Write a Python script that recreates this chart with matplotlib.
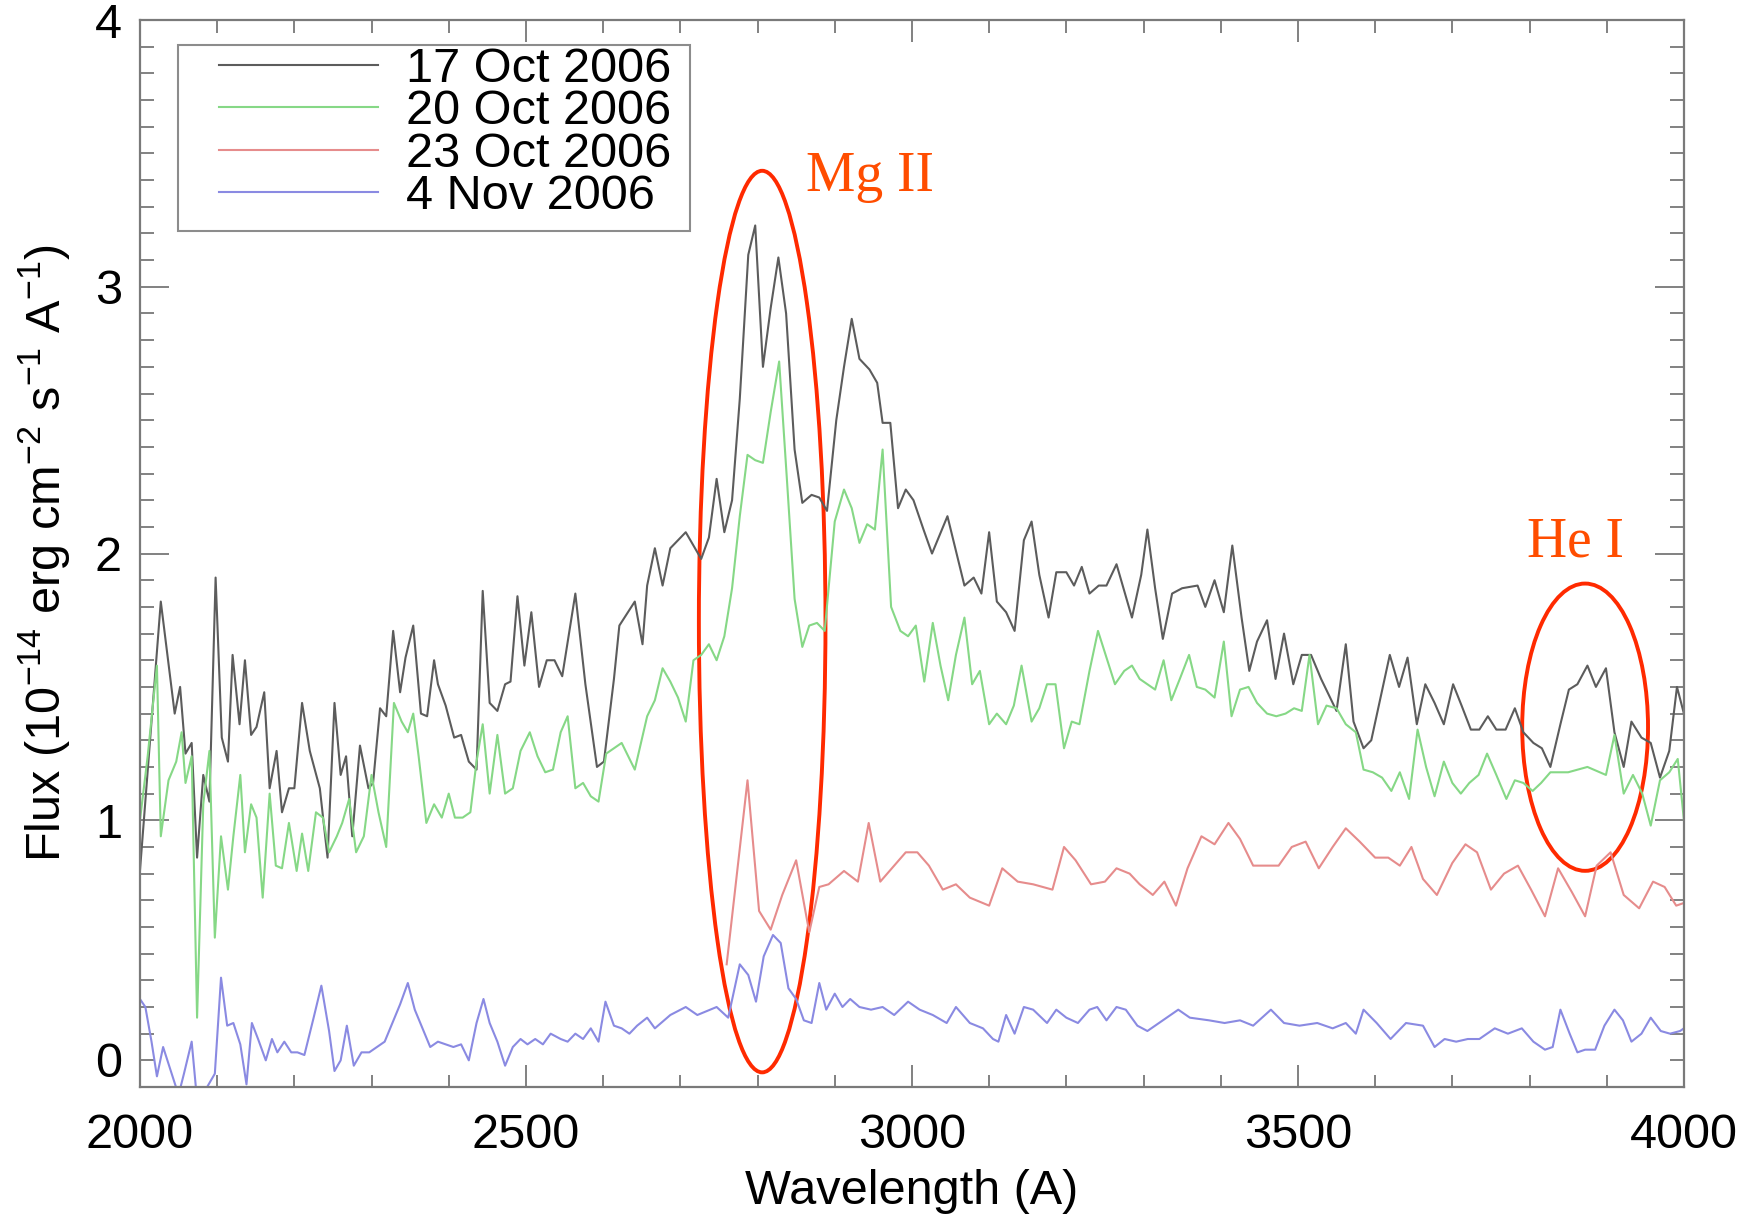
import numpy as np
import matplotlib
matplotlib.use("Agg")
import matplotlib.pyplot as plt
from matplotlib.patches import Ellipse, Rectangle
from matplotlib.ticker import MultipleLocator

plt.rcParams['font.family'] = ['Liberation Sans', 'DejaVu Sans']
plt.rcParams['mathtext.fontset'] = 'custom'
plt.rcParams['mathtext.rm'] = 'Liberation Sans'
plt.rcParams['mathtext.it'] = 'Liberation Sans:italic'

# 17 Oct 2006
wl_oct17 = [2000, 2027, 2045, 2052, 2059, 2067, 2074, 2082, 2090, 2098,
            2106, 2114, 2120, 2129, 2136, 2144, 2151, 2161, 2168, 2177,
            2184, 2193, 2200, 2210, 2220, 2233, 2243, 2252, 2260, 2267,
            2275, 2285, 2296, 2302, 2311, 2319, 2328, 2337, 2344, 2354,
            2364, 2372, 2381, 2386, 2396, 2407, 2416, 2426, 2436, 2444,
            2453, 2463, 2473, 2480, 2489, 2498, 2507, 2517, 2527, 2537,
            2547, 2564, 2577, 2592, 2601, 2614, 2621, 2641, 2651,
            2657, 2667, 2677, 2687, 2707, 2727, 2737, 2747, 2757, 2767,
            2777, 2788, 2797, 2807, 2817, 2827, 2837, 2848, 2858, 2870,
            2880, 2890, 2902, 2912, 2922, 2932, 2945, 2955, 2962, 2972,
            2982, 2992, 3002, 3015, 3026, 3046, 3057, 3068, 3080, 3090,
            3100, 3110, 3122, 3133, 3145, 3155, 3165, 3177, 3187, 3200,
            3210, 3220, 3230, 3242, 3252, 3265, 3285, 3297,
            3305, 3315, 3325, 3337, 3350, 3370, 3380, 3392, 3404, 3415,
            3427, 3437, 3447, 3460, 3471, 3482, 3494, 3505, 3517, 3530,
            3550, 3562, 3572, 3585, 3595, 3607, 3619, 3631, 3642, 3654,
            3665, 3677, 3689, 3701, 3712, 3724, 3735, 3746, 3757, 3769,
            3781, 3792, 3805, 3816, 3827, 3840, 3851, 3862, 3875, 3886,
            3899, 3910, 3922, 3932, 3945, 3957, 3969, 3981, 3991, 4000]
fx_oct17 = [0.81, 1.82, 1.40, 1.50, 1.25, 1.29, 0.86, 1.17, 1.07, 1.91,
            1.31, 1.22, 1.62, 1.36, 1.60, 1.32, 1.35, 1.48, 1.12, 1.26,
            1.03, 1.12, 1.12, 1.44, 1.26, 1.12, 0.86, 1.44, 1.17, 1.24,
            0.94, 1.28, 1.12, 1.14, 1.42, 1.39, 1.71, 1.48, 1.61, 1.73,
            1.40, 1.39, 1.60, 1.51, 1.43, 1.31, 1.32, 1.22, 1.19, 1.86,
            1.44, 1.41, 1.51, 1.52, 1.84, 1.58, 1.78, 1.50, 1.60, 1.60,
            1.54, 1.85, 1.51, 1.20, 1.22, 1.53, 1.73, 1.82, 1.66,
            1.88, 2.02, 1.88, 2.02, 2.08, 1.98, 2.06, 2.28, 2.08, 2.20,
            2.58, 3.12, 3.23, 2.70, 2.92, 3.11, 2.90, 2.39, 2.19, 2.22,
            2.21, 2.16, 2.50, 2.70, 2.88, 2.73, 2.69, 2.64, 2.49, 2.49,
            2.17, 2.24, 2.20, 2.09, 2.00, 2.14, 2.01, 1.88, 1.91, 1.85,
            2.08, 1.82, 1.78, 1.71, 2.05, 2.12, 1.92, 1.76, 1.93, 1.93,
            1.88, 1.95, 1.85, 1.88, 1.88, 1.96, 1.76, 1.92,
            2.09, 1.87, 1.68, 1.85, 1.87, 1.88, 1.80, 1.90, 1.78, 2.03,
            1.76, 1.56, 1.67, 1.75, 1.53, 1.70, 1.51, 1.62, 1.62, 1.53,
            1.41, 1.66, 1.37, 1.27, 1.30, 1.46, 1.62, 1.50, 1.61, 1.36,
            1.51, 1.44, 1.36, 1.51, 1.43, 1.34, 1.34, 1.39, 1.34, 1.34,
            1.42, 1.33, 1.29, 1.27, 1.20, 1.36, 1.49, 1.51, 1.58, 1.50,
            1.57, 1.33, 1.20, 1.37, 1.31, 1.29, 1.16, 1.26, 1.50, 1.40]

# 20 Oct 2006
wl_oct20 = [2000, 2010, 2022, 2027, 2037, 2047, 2054, 2059, 2067, 2074,
            2082, 2090, 2097, 2105, 2114, 2121, 2130, 2136, 2144, 2151,
            2159, 2168, 2176, 2184, 2193, 2203, 2210, 2218, 2228, 2237,
            2245, 2255, 2262, 2271, 2280, 2290, 2300, 2309, 2319, 2329,
            2339, 2347, 2354, 2361, 2371, 2381, 2391, 2400, 2408, 2418,
            2428, 2436, 2444, 2453, 2463, 2473, 2483, 2493, 2505, 2515,
            2525, 2535, 2545, 2554, 2564, 2574, 2584, 2594, 2604, 2624,
            2641,
            2657, 2667, 2677, 2687, 2697, 2707, 2717, 2727, 2737, 2747,
            2757, 2767, 2777, 2787, 2797, 2807, 2817, 2828, 2838, 2848,
            2858, 2867, 2877, 2887, 2900, 2912, 2922, 2932, 2942, 2952,
            2962, 2973, 2985, 2995, 3005, 3016, 3027, 3037, 3047, 3057,
            3068, 3078, 3088, 3100, 3110, 3122, 3132, 3142, 3155, 3165,
            3175, 3186, 3197, 3207, 3217, 3230, 3241, 3252, 3263, 3275,
            3285, 3295,
            3305, 3315, 3326, 3336, 3347, 3359, 3369, 3380, 3392, 3404,
            3414, 3425, 3436, 3447, 3460, 3472, 3484, 3495, 3505, 3515,
            3526, 3537, 3550, 3562, 3575, 3585, 3597, 3609, 3621, 3632,
            3644, 3655, 3666, 3677, 3689, 3700, 3711, 3722, 3734, 3745,
            3757, 3770, 3781, 3792, 3804, 3815, 3827, 3850, 3875, 3899,
            3910, 3922, 3934, 3946, 3957, 3969, 3981, 3992, 4000]
fx_oct20 = [1.00, 1.24, 1.58, 0.94, 1.15, 1.22, 1.33, 1.14, 1.24, 0.26,
            1.06, 1.26, 0.56, 0.94, 0.74, 0.94, 1.17, 0.88, 1.06, 1.01,
            0.71, 1.10, 0.83, 0.82, 0.99, 0.81, 0.95, 0.81, 1.03, 1.01,
            0.88, 0.94, 0.99, 1.08, 0.88, 0.94, 1.17, 1.03, 0.90, 1.44,
            1.37, 1.33, 1.40, 1.24, 0.99, 1.06, 1.01, 1.10, 1.01, 1.01,
            1.03, 1.22, 1.36, 1.10, 1.32, 1.10, 1.12, 1.26, 1.33, 1.24,
            1.18, 1.19, 1.33, 1.39, 1.12, 1.14, 1.09, 1.07, 1.25, 1.29,
            1.19,
            1.39, 1.45, 1.57, 1.52, 1.46, 1.37, 1.60, 1.62, 1.66, 1.60,
            1.69, 1.87, 2.14, 2.37, 2.35, 2.34, 2.53, 2.72, 2.28, 1.83,
            1.65, 1.73, 1.74, 1.71, 2.12, 2.24, 2.17, 2.04, 2.11, 2.09,
            2.39, 1.80, 1.71, 1.69, 1.73, 1.52, 1.74, 1.58, 1.45, 1.62,
            1.76, 1.51, 1.56, 1.36, 1.40, 1.36, 1.43, 1.58, 1.37, 1.42,
            1.51, 1.51, 1.27, 1.37, 1.36, 1.56, 1.71, 1.61, 1.51, 1.56,
            1.58, 1.53,
            1.51, 1.49, 1.60, 1.45, 1.53, 1.62, 1.50, 1.49, 1.46, 1.67,
            1.39, 1.49, 1.50, 1.44, 1.40, 1.39, 1.40, 1.42, 1.41, 1.62,
            1.36, 1.43, 1.42, 1.36, 1.33, 1.19, 1.18, 1.16, 1.11, 1.18,
            1.08, 1.34, 1.20, 1.09, 1.22, 1.14, 1.10, 1.14, 1.17, 1.25,
            1.17, 1.08, 1.15, 1.14, 1.11, 1.14, 1.18, 1.18, 1.20, 1.17,
            1.32, 1.10, 1.17, 1.10, 0.98, 1.15, 1.18, 1.23, 1.00]

# 23 Oct 2006
wl_oct23 = [2760, 2787, 2802, 2817, 2832, 2850, 2867, 2880, 2892, 2912,
            2930, 2944, 2959, 2977, 2992, 3007, 3022, 3040, 3057, 3075,
            3100, 3117, 3137, 3157, 3182, 3197, 3212, 3232, 3250, 3265,
            3282, 3295, 3312, 3327, 3342, 3357, 3375, 3392, 3410, 3425,
            3442, 3475, 3492, 3510, 3527, 3545, 3562, 3580, 3600, 3617,
            3632, 3647, 3662, 3680, 3700, 3717, 3732, 3750, 3767, 3785,
            3802, 3820, 3837, 3855, 3872, 3887, 3905, 3922, 3942, 3960,
            3975, 3990, 4000]
fx_oct23 = [0.46, 1.15, 0.66, 0.59, 0.72, 0.85, 0.58, 0.75, 0.76, 0.81,
            0.77, 0.99, 0.77, 0.83, 0.88, 0.88, 0.83, 0.74, 0.76, 0.71,
            0.68, 0.82, 0.77, 0.76, 0.74, 0.90, 0.85, 0.76, 0.77, 0.82,
            0.80, 0.76, 0.72, 0.77, 0.68, 0.82, 0.94, 0.91, 0.99, 0.93,
            0.83, 0.83, 0.90, 0.92, 0.82, 0.90, 0.97, 0.92, 0.86, 0.86,
            0.83, 0.90, 0.78, 0.72, 0.84, 0.91, 0.88, 0.74, 0.80, 0.83,
            0.74, 0.64, 0.82, 0.73, 0.64, 0.83, 0.88, 0.72, 0.67, 0.77,
            0.75, 0.68, 0.69]

# 4 Nov 2006
wl_nov4 = [2000, 2007, 2015, 2022, 2030, 2040, 2050, 2057, 2067, 2074,
           2087, 2097, 2105, 2113, 2121, 2130, 2138, 2145, 2153, 2163,
           2171, 2178, 2187, 2196, 2204, 2213, 2225, 2235, 2245, 2252,
           2260, 2268, 2277, 2287, 2297, 2307, 2317, 2327, 2337, 2347,
           2356, 2366, 2376, 2386, 2396, 2406, 2416, 2426, 2436, 2445,
           2453, 2463, 2473, 2483, 2493, 2502, 2512, 2522, 2532, 2545,
           2554, 2564, 2574, 2584, 2594, 2603, 2614, 2624, 2634, 2644,
           2657, 2667, 2687, 2707, 2722, 2747, 2762, 2777, 2788, 2798,
           2808, 2820, 2830, 2840, 2850, 2860, 2870, 2880, 2889, 2900,
           2910, 2920, 2932, 2947, 2962, 2977, 2995, 3010, 3027, 3045,
           3057, 3075, 3092, 3105, 3112, 3122, 3133, 3145, 3157, 3175,
           3187, 3200, 3215, 3230, 3240, 3252, 3265, 3277, 3292,
           3305, 3325, 3345, 3360, 3385, 3405, 3425, 3442, 3465, 3482,
           3502, 3525, 3545, 3562, 3575, 3585, 3602, 3620, 3640, 3662,
           3677, 3690, 3705, 3720, 3735, 3755, 3772, 3790, 3805, 3820,
           3830, 3840, 3852, 3862, 3872, 3885, 3897, 3910, 3921, 3932,
           3945, 3957, 3970, 3982, 3995, 4000]
fx_nov4 = [0.33, 0.30, 0.17, 0.04, 0.15, 0.06, -0.03, 0.05, 0.17, -0.05,
           0.00, 0.05, 0.41, 0.23, 0.24, 0.16, 0.01, 0.24, 0.18, 0.10,
           0.18, 0.13, 0.17, 0.13, 0.13, 0.12, 0.26, 0.38, 0.21, 0.06,
           0.10, 0.23, 0.08, 0.13, 0.13, 0.15, 0.17, 0.24, 0.31, 0.39,
           0.29, 0.22, 0.15, 0.17, 0.16, 0.15, 0.16, 0.10, 0.24, 0.33,
           0.24, 0.17, 0.08, 0.15, 0.18, 0.16, 0.18, 0.16, 0.20, 0.18,
           0.17, 0.20, 0.18, 0.22, 0.17, 0.32, 0.23, 0.22, 0.20, 0.23,
           0.26, 0.22, 0.27, 0.30, 0.27, 0.30, 0.26, 0.46, 0.42, 0.32,
           0.49, 0.57, 0.54, 0.37, 0.33, 0.25, 0.24, 0.39, 0.29, 0.35,
           0.30, 0.33, 0.30, 0.29, 0.30, 0.27, 0.32, 0.29, 0.27, 0.24,
           0.30, 0.24, 0.22, 0.18, 0.17, 0.27, 0.20, 0.30, 0.29, 0.24,
           0.29, 0.26, 0.24, 0.29, 0.30, 0.25, 0.30, 0.29, 0.23,
           0.21, 0.25, 0.29, 0.26, 0.25, 0.24, 0.25, 0.23, 0.29, 0.24,
           0.23, 0.24, 0.22, 0.24, 0.20, 0.29, 0.24, 0.18, 0.24, 0.23,
           0.15, 0.18, 0.17, 0.18, 0.18, 0.22, 0.20, 0.22, 0.17, 0.14,
           0.15, 0.29, 0.20, 0.13, 0.14, 0.14, 0.23, 0.29, 0.25, 0.17,
           0.20, 0.26, 0.21, 0.20, 0.21, 0.22]

labels = ['17 Oct 2006', '20 Oct 2006', '23 Oct 2006', '4 Nov 2006']
colors = ['#5c5c5c', '#86d886', '#e68c8c', '#8a8ae2']

fig = plt.figure(figsize=(17.45, 12.17), dpi=100)
ax = fig.add_axes([0.0802, 0.1068, 0.8848, 0.8767])

series = [(wl_oct17, fx_oct17), (wl_oct20, fx_oct20),
          (wl_oct23, fx_oct23), (wl_nov4, fx_nov4)]
for (wl, fx), lab, c in zip(series, labels, colors):
    ax.plot(wl, fx, color=c, lw=1.5, label=lab)

# line markers
ax.add_patch(Ellipse((2806, 1.745), 164, 3.38, fill=False,
                     edgecolor='#ff2a00', lw=2.8))
ax.add_patch(Ellipse((3872, 1.349), 163, 1.077, fill=False,
                     edgecolor='#ff2a00', lw=2.8))
ax.text(2946, 3.41, 'Mg II', color='#ff4d00', fontsize=40,
        family=['Liberation Serif', 'DejaVu Serif'], ha='center', va='center')
ax.text(3859, 2.04, 'He I', color='#ff4d00', fontsize=40,
        family=['Liberation Serif', 'DejaVu Serif'], ha='center', va='center')

ax.set_xlim(2000, 4000)
ax.set_ylim(0, 4)
ax.xaxis.set_major_locator(MultipleLocator(500))
ax.xaxis.set_minor_locator(MultipleLocator(100))
ax.yaxis.set_major_locator(MultipleLocator(1))
ax.yaxis.set_minor_locator(MultipleLocator(0.1))

ax.tick_params(which='both', direction='in', top=True, right=True,
               color='#777777', width=1.3, labelsize=35)
ax.tick_params(axis='x', which='major', length=16, pad=19)
ax.tick_params(axis='x', which='minor', length=9)
ax.tick_params(axis='y', which='major', length=21, pad=13)
ax.tick_params(axis='y', which='minor', length=10)
for s in ax.spines.values():
    s.set_color('#7a7a7a')
    s.set_linewidth(1.6)

ax.set_xlabel('Wavelength (A)', fontsize=35)
ax.set_ylabel(r'Flux (10$^{-14}$ erg cm$^{-2}$ s$^{-1}$ A$^{-1}$)', fontsize=35)
ax.xaxis.set_label_coords(0.5, -0.0975)
ax.xaxis.label.set_va('center')
ax.yaxis.set_label_coords(-0.062, 0.5)
ax.yaxis.label.set_va('center')

# legend box drawn separately so the padding matches the original
ax.add_patch(Rectangle((0.0246, 0.8022), 0.3316, 0.1744, transform=ax.transAxes,
                       fill=True, facecolor='white', edgecolor='#8c8c8c',
                       lw=1.5, zorder=4))
leg = ax.legend(loc='upper left', bbox_to_anchor=(0.0512, 0.975),
                borderaxespad=0, borderpad=0, fontsize=35, handlelength=3.27,
                handletextpad=0.58, labelspacing=-0.05, frameon=False)
leg.set_zorder(5)

fig.canvas.draw()
for t in ax.yaxis.get_major_ticks():
    if abs(t.get_loc()) < 1e-9:
        t.label1.set_va('bottom')

fig.savefig('out.png', dpi=100)
